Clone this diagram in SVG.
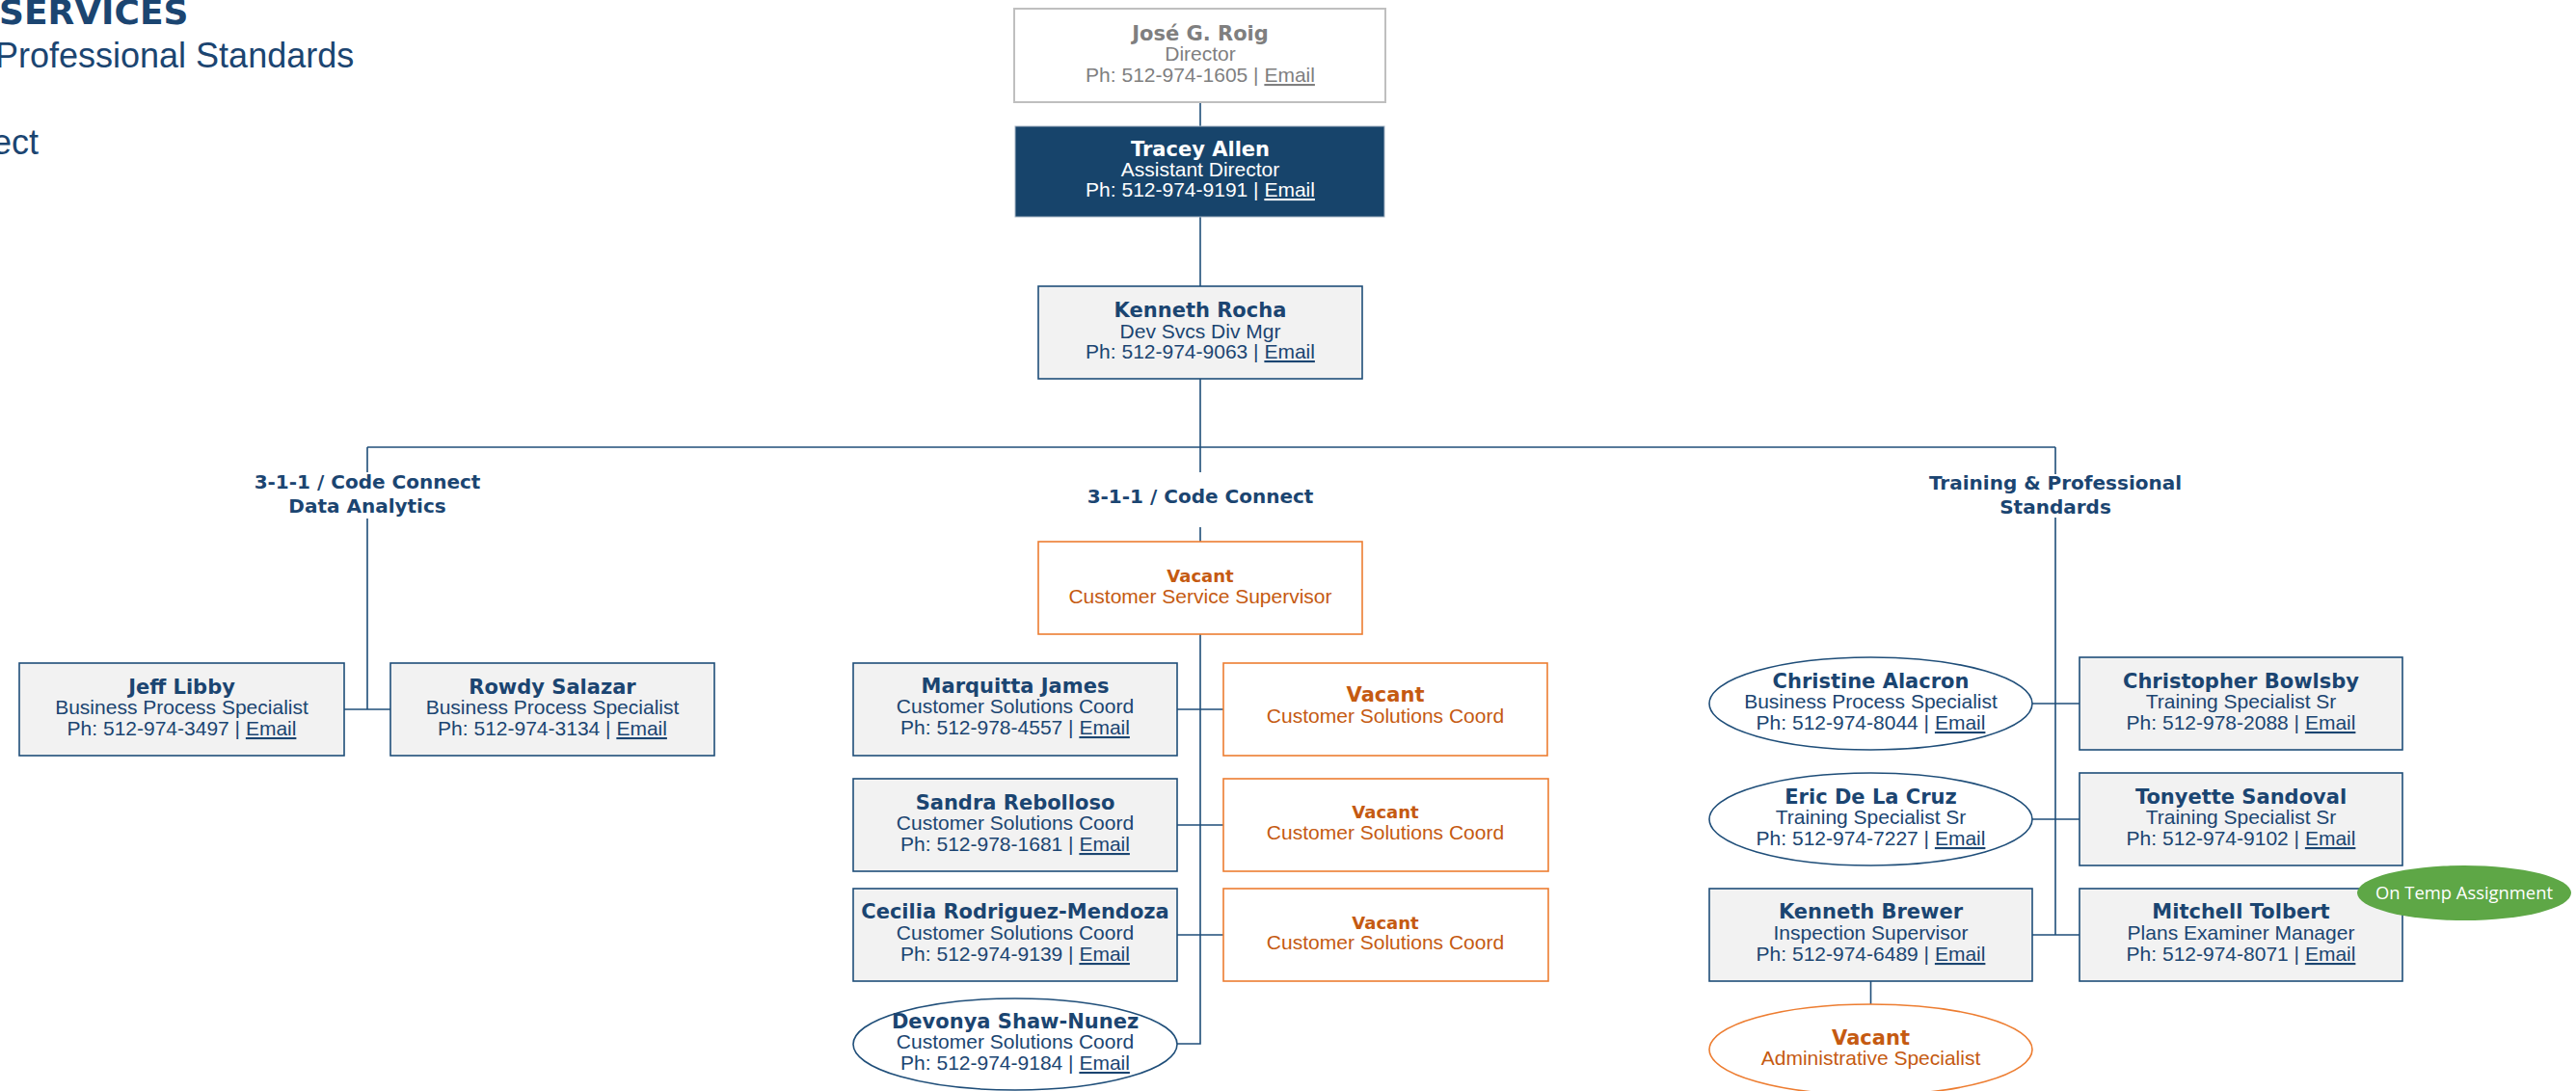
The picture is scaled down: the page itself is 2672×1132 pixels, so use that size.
<svg xmlns="http://www.w3.org/2000/svg" width="2672" height="1132" viewBox="0 0 2672 1132">
<style>
.bg{fill:#ffffff}
.box{fill:#f2f2f2;stroke:#1f4e79;stroke-width:1.6}
.ell{fill:#ffffff;stroke:#1f4e79;stroke-width:1.6}
.vac{fill:#ffffff;stroke:#ed7d31;stroke-width:1.6}
.nm{font-family:"DejaVu Sans","Liberation Sans",sans-serif;font-weight:bold;font-size:21px;fill:#1b4571;text-anchor:middle}
.lb{font-family:"DejaVu Sans","Liberation Sans",sans-serif;font-weight:bold;font-size:20px;fill:#1b4571;text-anchor:middle}
.tx{font-family:"Liberation Sans",Arial,sans-serif;font-size:21px;fill:#1b4571;text-anchor:middle}
.u{text-decoration:underline}
.or{fill:#c55a11}
.gr{fill:#7f7f7f}
.wh{fill:#ffffff}
.conn{stroke:#1f4e79;stroke-width:1.6;fill:none}
.hd{font-family:"Liberation Sans",Arial,sans-serif;font-size:36px;fill:#1b4571}
</style>
<rect class="bg" x="0" y="0" width="2672" height="1132"/>

<g id="header">
<text x="-1" y="25" style="font-family:'DejaVu Sans',sans-serif;font-weight:bold;font-size:36px;fill:#1b4571">SERVICES</text>
<text class="hd" x="-5" y="70">Professional Standards</text>
<text class="hd" x="-8" y="160">ect</text>
</g>

<g id="connectors">
<path class="conn" d="M1245 106V131"/>
<path class="conn" d="M1245 225V297"/>
<path class="conn" d="M1245 393V490M1245 547V562"/>
<path class="conn" d="M381 464H2132"/>
<path class="conn" d="M381 464V490M381 538V736"/>
<path class="conn" d="M357 736H405"/>
<path class="conn" d="M2132 464V492M2132 537V970"/>
<path class="conn" d="M1245 658V1083H1221"/>
<path class="conn" d="M1221 736H1269M1221 856H1269M1221 970H1269"/>
<path class="conn" d="M2108 730H2157M2108 850H2157M2108 970H2157"/>
<path class="conn" d="M1940.5 1018V1042"/>
</g>

<g id="jose">
<rect x="1052" y="9" width="385" height="97" fill="#ffffff" stroke="#bfbfbf" stroke-width="2"/>
<text class="nm gr" x="1245" y="42">José G. Roig</text>
<text class="tx gr" x="1245" y="63">Director</text>
<text class="tx gr" x="1245" y="85">Ph: 512-974-1605 | <tspan class="u">Email</tspan></text>
</g>

<g id="tracey">
<rect x="1053" y="131" width="383" height="94" fill="#17446b" stroke="#a6b4c4" stroke-width="1"/>
<text class="nm wh" x="1245" y="162">Tracey Allen</text>
<text class="tx wh" x="1245" y="183">Assistant Director</text>
<text class="tx wh" x="1245" y="204">Ph: 512-974-9191 | <tspan class="u">Email</tspan></text>
</g>

<g id="rocha">
<rect class="box" x="1077" y="297" width="336" height="96"/>
<text class="nm" x="1245" y="329">Kenneth Rocha</text>
<text class="tx" x="1245" y="351">Dev Svcs Div Mgr</text>
<text class="tx" x="1245" y="372">Ph: 512-974-9063 | <tspan class="u">Email</tspan></text>
</g>

<g id="label-data-analytics">
<text class="lb" x="381" y="507">3-1-1 / Code Connect</text>
<text class="lb" x="381" y="532">Data Analytics</text>
</g>
<g id="label-311">
<text class="lb" x="1245" y="522">3-1-1 / Code Connect</text>
</g>
<g id="label-training">
<text class="lb" x="2132" y="508">Training &amp; Professional</text>
<text class="lb" x="2132" y="533">Standards</text>
</g>

<g id="jeff">
<rect class="box" x="20" y="688" width="337" height="96"/>
<text class="nm" x="188.5" y="720">Jeff Libby</text>
<text class="tx" x="188.5" y="741">Business Process Specialist</text>
<text class="tx" x="188.5" y="763">Ph: 512-974-3497 | <tspan class="u">Email</tspan></text>
</g>

<g id="rowdy">
<rect class="box" x="405" y="688" width="336" height="96"/>
<text class="nm" x="573" y="720">Rowdy Salazar</text>
<text class="tx" x="573" y="741">Business Process Specialist</text>
<text class="tx" x="573" y="763">Ph: 512-974-3134 | <tspan class="u">Email</tspan></text>
</g>

<g id="vacant-supervisor">
<rect class="vac" x="1077" y="562" width="336" height="96"/>
<text class="nm or" x="1245" y="604" style="font-size:18px">Vacant</text>
<text class="tx or" x="1245" y="626">Customer Service Supervisor</text>
</g>

<g id="marquitta">
<rect class="box" x="885" y="688" width="336" height="96"/>
<text class="nm" x="1053" y="719">Marquitta James</text>
<text class="tx" x="1053" y="740">Customer Solutions Coord</text>
<text class="tx" x="1053" y="762">Ph: 512-978-4557 | <tspan class="u">Email</tspan></text>
</g>

<g id="vacant-coord-1">
<rect class="vac" x="1269" y="688" width="336" height="96"/>
<text class="nm or" x="1437" y="728">Vacant</text>
<text class="tx or" x="1437" y="750">Customer Solutions Coord</text>
</g>

<g id="sandra">
<rect class="box" x="885" y="808" width="336" height="96"/>
<text class="nm" x="1053" y="840">Sandra Rebolloso</text>
<text class="tx" x="1053" y="861">Customer Solutions Coord</text>
<text class="tx" x="1053" y="883">Ph: 512-978-1681 | <tspan class="u">Email</tspan></text>
</g>

<g id="vacant-coord-2">
<rect class="vac" x="1269" y="808" width="337" height="96"/>
<text class="nm or" x="1437" y="849" style="font-size:18px">Vacant</text>
<text class="tx or" x="1437" y="871">Customer Solutions Coord</text>
</g>

<g id="cecilia">
<rect class="box" x="885" y="922" width="336" height="96"/>
<text class="nm" x="1053" y="953">Cecilia Rodriguez-Mendoza</text>
<text class="tx" x="1053" y="975">Customer Solutions Coord</text>
<text class="tx" x="1053" y="997">Ph: 512-974-9139 | <tspan class="u">Email</tspan></text>
</g>

<g id="vacant-coord-3">
<rect class="vac" x="1269" y="922" width="337" height="96"/>
<text class="nm or" x="1437" y="964" style="font-size:18px">Vacant</text>
<text class="tx or" x="1437" y="985">Customer Solutions Coord</text>
</g>

<g id="devonya">
<ellipse class="ell" cx="1053" cy="1083.5" rx="168" ry="47.5"/>
<text class="nm" x="1053" y="1067">Devonya Shaw-Nunez</text>
<text class="tx" x="1053" y="1088">Customer Solutions Coord</text>
<text class="tx" x="1053" y="1110">Ph: 512-974-9184 | <tspan class="u">Email</tspan></text>
</g>

<g id="christine">
<ellipse class="ell" cx="1940.5" cy="730" rx="167.5" ry="48"/>
<text class="nm" x="1940.5" y="714">Christine Alacron</text>
<text class="tx" x="1940.5" y="735">Business Process Specialist</text>
<text class="tx" x="1940.5" y="757">Ph: 512-974-8044 | <tspan class="u">Email</tspan></text>
</g>

<g id="christopher">
<rect class="box" x="2157" y="682" width="335" height="96"/>
<text class="nm" x="2324.5" y="714">Christopher Bowlsby</text>
<text class="tx" x="2324.5" y="735">Training Specialist Sr</text>
<text class="tx" x="2324.5" y="757">Ph: 512-978-2088 | <tspan class="u">Email</tspan></text>
</g>

<g id="eric">
<ellipse class="ell" cx="1940.5" cy="850" rx="167.5" ry="48"/>
<text class="nm" x="1940.5" y="834">Eric De La Cruz</text>
<text class="tx" x="1940.5" y="855">Training Specialist Sr</text>
<text class="tx" x="1940.5" y="877">Ph: 512-974-7227 | <tspan class="u">Email</tspan></text>
</g>

<g id="tonyette">
<rect class="box" x="2157" y="802" width="335" height="96"/>
<text class="nm" x="2324.5" y="834">Tonyette Sandoval</text>
<text class="tx" x="2324.5" y="855">Training Specialist Sr</text>
<text class="tx" x="2324.5" y="877">Ph: 512-974-9102 | <tspan class="u">Email</tspan></text>
</g>

<g id="brewer">
<rect class="box" x="1773" y="922" width="335" height="96"/>
<text class="nm" x="1940.5" y="953">Kenneth Brewer</text>
<text class="tx" x="1940.5" y="975">Inspection Supervisor</text>
<text class="tx" x="1940.5" y="997">Ph: 512-974-6489 | <tspan class="u">Email</tspan></text>
</g>

<g id="mitchell">
<rect class="box" x="2157" y="922" width="335" height="96"/>
<text class="nm" x="2324.5" y="953">Mitchell Tolbert</text>
<text class="tx" x="2324.5" y="975">Plans Examiner Manager</text>
<text class="tx" x="2324.5" y="997">Ph: 512-974-8071 | <tspan class="u">Email</tspan></text>
</g>

<g id="on-temp-assignment">
<ellipse cx="2556" cy="926.5" rx="111" ry="28.5" fill="#5ea746"/>
<text x="2556" y="933" textLength="184" lengthAdjust="spacingAndGlyphs" style="font-family:'Open Sans',sans-serif;font-size:19px;fill:#ffffff;text-anchor:middle">On Temp Assignment</text>
</g>

<g id="vacant-admin">
<ellipse cx="1940.5" cy="1089" rx="167.5" ry="47" fill="#ffffff" stroke="#ed7d31" stroke-width="1.6"/>
<text class="nm or" x="1940.5" y="1084">Vacant</text>
<text class="tx or" x="1940.5" y="1105">Administrative Specialist</text>
</g>
</svg>
